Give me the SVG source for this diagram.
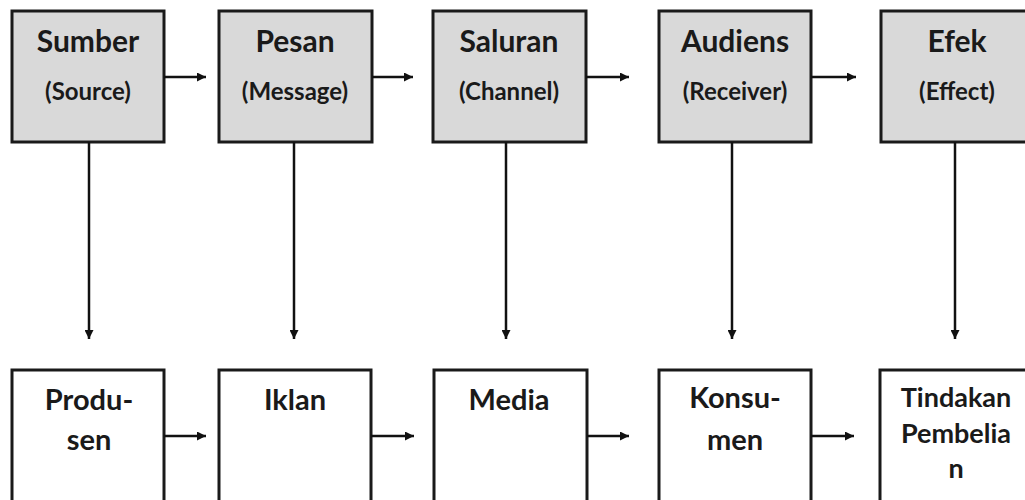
<svg xmlns="http://www.w3.org/2000/svg" width="1025" height="500" viewBox="0 0 1025 500">
<defs>
<marker id="ah" viewBox="0 0 10 10" refX="10" refY="5" markerWidth="11" markerHeight="9" markerUnits="userSpaceOnUse" orient="auto">
<path d="M0,0 L10,5 L0,10 z" fill="#111"/>
</marker>
<style>
.top{fill:#d9d9d9;stroke:#1a1a1a;stroke-width:3}
.bot{fill:#ffffff;stroke:#1a1a1a;stroke-width:3}
.t{font-family:Lato,"Liberation Sans",sans-serif;font-weight:700;fill:#1a1a1a;text-anchor:middle}
.h{font-size:30px}
.s{font-size:24px}
.b{font-size:29px}
.c{font-size:27px}
.con line{stroke:#111;stroke-width:2.5;marker-end:url(#ah)}
</style>
</defs>
<rect width="1025" height="500" fill="#ffffff"/>
<g id="sumber"><rect class="top" x="12" y="11" width="152" height="131"/><text class="t h" x="88" y="52">Sumber</text><text class="t s" x="88" y="100">(Source)</text></g>
<g id="pesan"><rect class="top" x="219" y="11" width="153" height="131"/><text class="t h" x="295" y="52">Pesan</text><text class="t s" x="295" y="100">(Message)</text></g>
<g id="saluran"><rect class="top" x="433" y="11" width="153" height="131"/><text class="t h" x="509" y="52">Saluran</text><text class="t s" x="509" y="100">(Channel)</text></g>
<g id="audiens"><rect class="top" x="659" y="11" width="152" height="131"/><text class="t h" x="735" y="52">Audiens</text><text class="t s" x="735" y="100">(Receiver)</text></g>
<g id="efek"><rect class="top" x="881" y="11" width="160" height="131"/><text class="t h" x="957" y="52">Efek</text><text class="t s" x="957" y="100">(Effect)</text></g>
<g id="produsen"><rect class="bot" x="12" y="370" width="152" height="140"/><text class="t b" x="89" y="410">Produ-</text><text class="t b" x="89" y="450">sen</text></g>
<g id="iklan"><rect class="bot" x="219" y="370" width="152" height="140"/><text class="t b" x="295" y="410">Iklan</text></g>
<g id="media"><rect class="bot" x="434" y="370" width="153" height="140"/><text class="t b" x="509" y="410">Media</text></g>
<g id="konsumen"><rect class="bot" x="659" y="370" width="152" height="140"/><text class="t b" x="735" y="408">Konsu-</text><text class="t b" x="735" y="450">men</text></g>
<g id="tindakan"><rect class="bot" x="880" y="370" width="160" height="140"/><text class="t c" x="956" y="407">Tindakan</text><text class="t c" x="956" y="443">Pembelia</text><text class="t c" x="956" y="478">n</text></g>
<g id="connectors" class="con">
<line x1="164" y1="77" x2="206" y2="77"/>
<line x1="372" y1="77" x2="413" y2="77"/>
<line x1="586" y1="77" x2="629" y2="77"/>
<line x1="811" y1="77" x2="856" y2="77"/>
<line x1="164" y1="436" x2="206" y2="436"/>
<line x1="371" y1="436" x2="414" y2="436"/>
<line x1="587" y1="436" x2="629" y2="436"/>
<line x1="811" y1="436" x2="854" y2="436"/>
<line x1="89" y1="142" x2="89" y2="339"/>
<line x1="294" y1="142" x2="294" y2="339"/>
<line x1="506" y1="142" x2="506" y2="339"/>
<line x1="732" y1="142" x2="732" y2="339"/>
<line x1="955" y1="142" x2="955" y2="339"/>
</g>
</svg>
